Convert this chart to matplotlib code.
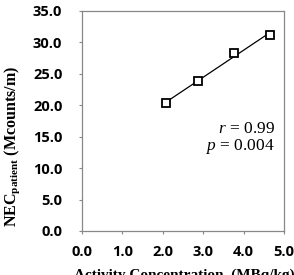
import numpy as np
import matplotlib
matplotlib.use("Agg")
import matplotlib.pyplot as plt

# Data
activity = [2.08, 2.86, 3.77, 4.65]
nec = [20.3, 23.9, 28.3, 31.2]
x_ticks = [0.0, 1.0, 2.0, 3.0, 4.0, 5.0]
y_ticks = [0.0, 5.0, 10.0, 15.0, 20.0, 25.0, 30.0, 35.0]

plt.rcParams["mathtext.fontset"] = "custom"
plt.rcParams["mathtext.rm"] = "Liberation Serif"
plt.rcParams["mathtext.it"] = "Liberation Serif:italic"
plt.rcParams["mathtext.bf"] = "Liberation Serif:bold"

fig = plt.figure(figsize=(2.94, 2.75), dpi=100)
ax = fig.add_axes([0.279, 0.16, 0.687, 0.80])

# Regression line over the measured range
slope, intercept = np.polyfit(activity, nec, 1)
xs = np.array([min(activity), max(activity)])
ax.plot(xs, slope * xs + intercept, color="black", linewidth=0.9, zorder=2)
ax.plot(activity, nec, linestyle="none", marker="s", markersize=6,
        markerfacecolor="white", markeredgecolor="black", markeredgewidth=1.3, zorder=3)

ax.set_xlim(0, 5)
ax.set_ylim(0, 35)
ax.set_xticks(x_ticks)
ax.set_yticks(y_ticks)
ax.set_xticklabels([f"{v:.1f}" for v in x_ticks], fontfamily="Open Sans", fontweight="bold", fontsize=10.5)
ax.set_yticklabels([f"{v:.1f}" for v in y_ticks], fontfamily="Open Sans", fontweight="bold", fontsize=10.5)
ax.tick_params(direction="out", length=2.2, width=0.8, color="#888888")
ax.tick_params(axis="x", pad=8)
ax.tick_params(axis="y", pad=12)

for side in ["left", "right", "top", "bottom"]:
    ax.spines[side].set_color("#888888")
    ax.spines[side].set_linewidth(0.9)

# Axis titles (x title runs off the figure edge, as in the original)
fig.text(74 / 294, 6 / 275, "Activity Concentration  (MBq/kg)", fontfamily="Liberation Serif",
         fontweight="bold", fontsize=11, ha="left", va="top")
fig.text(12 / 294, 129 / 275, r"NEC$_{\mathbf{patient}}$ (Mcounts/m)", fontfamily="Liberation Serif",
         fontweight="bold", fontsize=11.5, rotation=90, ha="center", va="center")

ax.text(0.955, 0.468, r"$r\,=\,0.99$", transform=ax.transAxes, ha="right", va="center",
        fontsize=12.5)
ax.text(0.955, 0.382, r"$p\,=\,0.004$", transform=ax.transAxes, ha="right", va="center",
        fontsize=12.5)

fig.savefig("out.png", dpi=100)
